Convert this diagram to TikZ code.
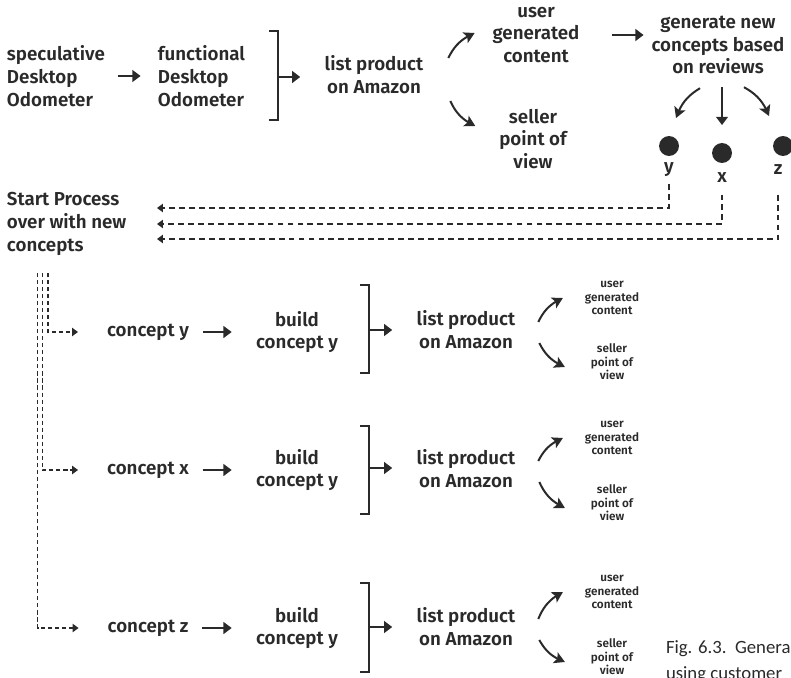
\documentclass[tikz,border=0pt]{standalone}
\usepackage{fontspec}
\setmainfont{Fira Sans SemiBold}
\newfontfamily\capfont{Carlito}
\usetikzlibrary{arrows.meta, bending}

\definecolor{ink}{HTML}{2A2A2A}

\begin{document}
\begin{tikzpicture}[x=0.03cm, y=-0.03cm, color=ink, line width=1.7pt,
  >={Triangle[length=7pt,width=10pt]},
  txt/.style={font=\fontsize{16}{19.5}\selectfont, inner sep=0pt, align=center},
  sml/.style={font=\fontsize{10}{11.5}\selectfont, inner sep=0pt, align=center},
  cv/.style={-{Stealth[length=9pt,width=10pt,inset=2pt]}},
  dsh/.style={dash pattern=on 5pt off 3.5pt, line width=1.6pt,
    -{Triangle[length=5pt,width=7pt]}},
  tri/.style={dash pattern=on 3.5pt off 2.5pt, line width=1.1pt,
    -{Triangle[length=5pt,width=7pt]}},
  dot/.style={circle, fill=ink, inner sep=0pt, minimum size=17pt}]
  \useasboundingbox (0,0) rectangle (791,678);
  \clip (0,0) rectangle (791,678);

  % first pass
  \node (spec) at (6,76) [txt, anchor=west, align=left] {speculative\\Desktop\\Odometer};
  \node (func) at (157,76) [txt, anchor=west, align=left] {functional\\Desktop\\Odometer};
  \draw [->, shorten <=10pt, shorten >=14pt] (spec) -- (func);
  \draw (269,31) -| (278,120) -- (269,120);
  \coordinate (b1) at (278,77);
  \node (list1) at (374,75) [txt] {list product\\on Amazon};
  \draw [->, shorten >=20pt] (b1) -- (b1 -| list1.west);
  \node (ugc1) at (536,35) [txt] {user\\generated\\content};
  \node (sel1) at (533,139) [txt] {seller\\point of\\view};
  \draw [cv] ([shift={(24,-17)}]list1.east) to [bend left=20] ([shift={(-17,-2)}]ugc1.west);
  \draw [cv] ([shift={(26,26)}]list1.east) to [bend right=20] ([shift={(-23,-13)}]sel1.west);
  \node (gen) at (718,45) [txt] {generate new\\concepts based\\on reviews};
  \draw [->, shorten <=27pt, shorten >=6pt] (ugc1.east) -- (ugc1.east -| gen.west);

  % three new concepts
  \node (doty) at (669,146) [dot] {};
  \node (dotx) at (722,153) [dot] {};
  \node (dotz) at (783,146) [dot] {};
  \draw [cv] ([shift={(-18,13)}]gen.south) to [bend right=20] ([shift={(7,-17)}]doty.north);
  \draw [->] ([shift={(4,12)}]gen.south) -- ([shift={(0,-17)}]dotx.north);
  \draw [cv] ([shift={(26,12)}]gen.south) to [bend left=20] ([shift={(-14,-19)}]dotz.north);
  \node (ly) at (669,170) [txt] {y};
  \node (lx) at (722,178) [txt] {x};
  \node (lz) at (778,170) [txt] {z};

  % back to the start
  \node (start) at (6,224) [txt, anchor=west, align=left] {Start Process\\over with new\\concepts};
  \coordinate (r1) at (157,208);
  \coordinate (r2) at (157,224);
  \coordinate (r3) at (157,239);
  \draw [dsh, shorten <=5pt] (ly.south) |- (r1);
  \draw [dsh, shorten <=9pt] (lx.south) |- (r2);
  \draw [dsh, shorten <=16pt] (lz.south) |- (r3);
  \coordinate (t1) at (37.5,273);
  \coordinate (t2) at (42.5,273);
  \coordinate (t3) at (48,273);

  % concept y
  \node (cy) at (148,332) [txt] {concept y};
  \node (by) at (297,332) [txt] {build\\concept y};
  \draw [tri, shorten >=24pt] (t3) |- (cy);
  \draw [->, shorten <=11pt, shorten >=20pt] (cy) -- (by);
  \draw (360,285) -| (369,373) -- (360,373);
  \coordinate (b2) at (369,330);
  \node (list2) at (466,330) [txt] {list product\\on Amazon};
  \draw [->, shorten >=20pt] (b2) -- (b2 -| list2.west);
  \node (ugc2) at (612,298) [sml] {user\\generated\\content};
  \node (sel2) at (612,362) [sml] {seller\\point of\\view};
  \draw [cv] ([shift={(22,-8)}]list2.east) to [bend left=20] ([shift={(-21,0)}]ugc2.west);
  \draw [cv] ([shift={(23,13)}]list2.east) to [bend right=20] ([shift={(-25,5)}]sel2.west);

  % concept x
  \node (cx) at (148,470) [txt] {concept x};
  \node (bx) at (297,470) [txt] {build\\concept y};
  \draw [tri, shorten >=24pt] (t2) |- (cx);
  \draw [->, shorten <=11pt, shorten >=20pt] (cx) -- (bx);
  \draw (360,426) -| (369,514) -- (360,514);
  \coordinate (b3) at (369,468);
  \node (list3) at (466,469) [txt] {list product\\on Amazon};
  \draw [->, shorten >=20pt] (b3) -- (b3 -| list3.west);
  \node (ugc3) at (612,438) [sml] {user\\generated\\content};
  \node (sel3) at (612,503) [sml] {seller\\point of\\view};
  \draw [cv] ([shift={(22,-8)}]list3.east) to [bend left=20] ([shift={(-21,0)}]ugc3.west);
  \draw [cv] ([shift={(23,13)}]list3.east) to [bend right=20] ([shift={(-25,5)}]sel3.west);

  % concept z
  \node (cz) at (148,628) [txt] {concept z};
  \node (bz) at (297,628) [txt] {build\\concept y};
  \draw [tri, shorten >=24pt] (t1) |- (cz);
  \draw [->, shorten <=11pt, shorten >=20pt] (cz) -- (bz);
  \draw (360,583) -| (369,672) -- (360,672);
  \coordinate (b4) at (369,627);
  \node (list4) at (466,627) [txt] {list product\\on Amazon};
  \draw [->, shorten >=20pt] (b4) -- (b4 -| list4.west);
  \node (ugc4) at (612,592) [sml] {user\\generated\\content};
  \node (sel4) at (612,657) [sml] {seller\\point of\\view};
  \draw [cv] ([shift={(22,-8)}]list4.east) to [bend left=20] ([shift={(-21,0)}]ugc4.west);
  \draw [cv] ([shift={(23,13)}]list4.east) to [bend right=20] ([shift={(-25,5)}]sel4.west);

  \node (cap) at (665,662) [anchor=west, align=left, inner sep=0pt,
    font=\capfont\fontsize{16}{22}\selectfont] {Fig. 6.3.\ \ Genera\\using customer};
\end{tikzpicture}
\end{document}
